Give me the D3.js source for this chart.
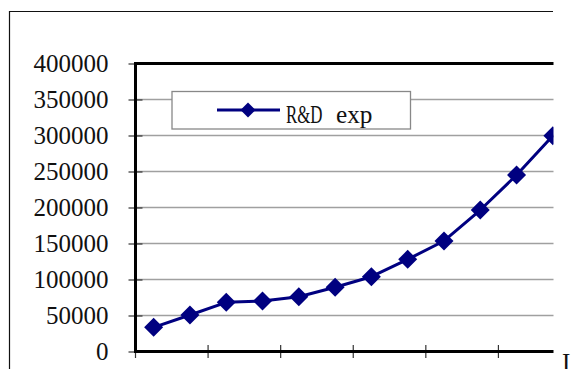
<!DOCTYPE html>
<html>
<head>
<meta charset="utf-8">
<script src="https://cdn.jsdelivr.net/npm/d3@7"></script>
<style>
  html, body { margin: 0; padding: 0; background: #fff; }
  svg { display: block; }
  text { font-family: "Liberation Serif", "DejaVu Serif", serif; fill: #111; }
</style>
</head>
<body>
<svg id="chart" width="571" height="369"></svg>
<script>
// R&D expenditure by period
const categories = ["1", "2", "3", "4", "5", "6", "7", "8", "9", "10", "11", "12"];
const rdExp = [33600, 50700, 68300, 70100, 76100, 89200, 103900, 128000, 153500, 196500, 245100, 299700];
const yTicks = [0, 50000, 100000, 150000, 200000, 250000, 300000, 350000, 400000];
const seriesName = "R&D exp";

const W = 571, H = 369;
const plot = { left: 135.5, right: 571, top: 63.5, bottom: 351.5 };
const visibleRight = 553;
const navy = "#000080";
const charW = 12.5; // half-width character advance at 25px

const svg = d3.select("#chart");
svg.append("rect").attr("width", W).attr("height", H).attr("fill", "#fff");

svg.append("defs").append("clipPath").attr("id", "chartClip")
  .append("rect").attr("x", 0).attr("y", 0).attr("width", visibleRight + 0.5).attr("height", H);

const g = svg.append("g").attr("clip-path", "url(#chartClip)");

const x = d3.scaleBand().domain(categories).range([plot.left, plot.right]).padding(0);
const y = d3.scaleLinear().domain([0, 400000]).range([plot.bottom, plot.top]);

// chart area frame
g.append("path")
  .attr("d", `M9.5,${H} V11.5 H${visibleRight}`)
  .attr("fill", "none").attr("stroke", "#111").attr("stroke-width", 1.2);

// horizontal gridlines
g.append("g").selectAll("line")
  .data(yTicks.filter(v => v > 0 && v < 400000))
  .join("line")
  .attr("x1", plot.left).attr("x2", plot.right)
  .attr("y1", d => y(d)).attr("y2", d => y(d))
  .attr("stroke", "#a0a0a0").attr("stroke-width", 1.6);

// value axis with ticks crossing the axis line
const yAxis = g.append("g")
  .attr("transform", `translate(${plot.left},0)`)
  .call(d3.axisLeft(y).tickValues(yTicks).tickSize(7).tickPadding(20).tickFormat(d3.format("d")));
yAxis.select(".domain").remove();
yAxis.selectAll(".tick line").attr("x1", 7).attr("stroke", "#333").attr("stroke-width", 1.2);
yAxis.selectAll(".tick text")
  .attr("font-size", 25)
  .attr("font-family", "Liberation Serif, serif")
  .attr("fill", "#111");

// category axis ticks, every second band boundary
const xTickCats = categories.filter((c, i) => i % 2 === 0);
g.append("g").selectAll("line")
  .data(xTickCats)
  .join("line")
  .attr("x1", d => x(d)).attr("x2", d => x(d))
  .attr("y1", plot.bottom - 6.5).attr("y2", plot.bottom + 6.5)
  .attr("stroke", "#333").attr("stroke-width", 1.2);

// plot area border (thick)
g.append("path")
  .attr("d", `M${plot.right},${plot.top} H${plot.left} V${plot.bottom} H${plot.right}`)
  .attr("fill", "none").attr("stroke", "#000").attr("stroke-width", 3);

// data line
const cx = d => x(d) + x.bandwidth() / 2;
const pts = categories.map((c, i) => [cx(c), y(rdExp[i])]);
g.append("path")
  .datum(pts)
  .attr("d", d3.line())
  .attr("fill", "none").attr("stroke", navy).attr("stroke-width", 3)
  .attr("stroke-linejoin", "round");

const diamond = r => `M0,${-r} L${r},0 L0,${r} L${-r},0 Z`;
g.append("g").selectAll("path")
  .data(pts)
  .join("path")
  .attr("transform", d => `translate(${d[0]},${d[1]})`)
  .attr("d", diamond(9.5))
  .attr("fill", navy);

// legend
const lg = g.append("g");
lg.append("rect")
  .attr("x", 172).attr("y", 91.5).attr("width", 238.5).attr("height", 37.5)
  .attr("fill", "#fff").attr("stroke", "#888").attr("stroke-width", 1.3);
lg.append("line")
  .attr("x1", 217).attr("x2", 280).attr("y1", 110).attr("y2", 110)
  .attr("stroke", navy).attr("stroke-width", 3);
lg.append("path")
  .attr("transform", "translate(248,110)")
  .attr("d", diamond(7.5))
  .attr("fill", navy);
// each word set on a fixed half-width grid
const words = seriesName.split(" ");
let cursor = 286;
const legendText = lg.append("text").attr("y", 122.5).attr("font-size", 25);
words.forEach((w, i) => {
  legendText.append("tspan")
    .attr("x", cursor)
    .attr("textLength", w.length * charW - 1)
    .attr("lengthAdjust", "spacingAndGlyphs")
    .text(w);
  cursor += (w.length + 1) * charW;
});

// edge of the following axis caption
svg.append("text")
  .attr("x", 562).attr("y", 371)
  .attr("font-size", 25)
  .text("I");
</script>
</body>
</html>
